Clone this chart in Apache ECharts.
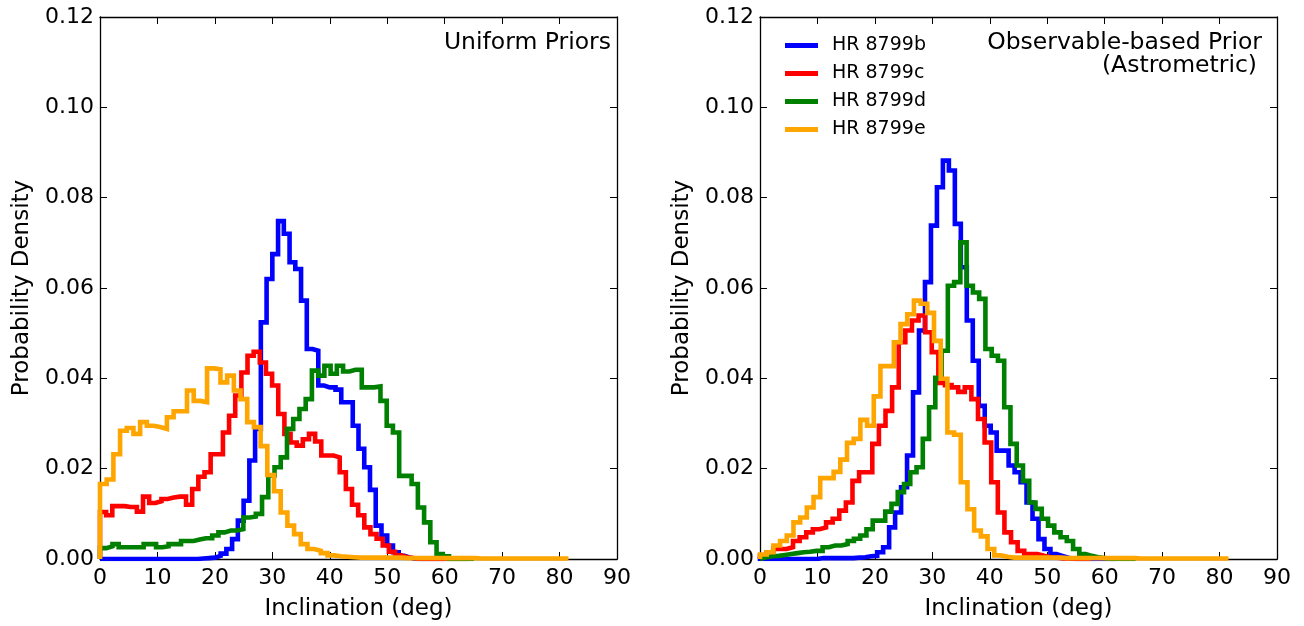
<!DOCTYPE html>
<html>
<head>
<meta charset="utf-8">
<script src="https://cdn.jsdelivr.net/npm/echarts@6/dist/echarts.min.js"></script>
<style>
html,body{margin:0;padding:0;background:#fff;}
#chart{width:1304px;height:626px;}
</style>
</head>
<body>
<div id="chart"></div>
<script>
// ---------- data ----------
const seriesNames = ['HR 8799b', 'HR 8799c', 'HR 8799d', 'HR 8799e'];
const seriesColors = ['#0000ff', '#ff0000', '#008000', '#ffa500'];
const xTicks = [0, 10, 20, 30, 40, 50, 60, 70, 80, 90];
const yTicks = [0, 0.02, 0.04, 0.06, 0.08, 0.10, 0.12];
const panelTitles = ['Uniform Priors', 'Observable-based Prior', '(Astrometric)'];
const xAxisTitle = 'Inclination (deg)';
const yAxisTitle = 'Probability Density';

// histogram bins: [first edge, bin width] (degrees), then density per bin
const leftBlueBins = [0, 1.0];
const leftBlue = [0,0,0,0,0,0,0,0,0,0, 0,0,0,0,0,0,0,0.0001,0.0002,0.0003,
  0.0007,0.0012,0.0022,0.0044,0.0085,0.0129,0.0218,0.0288,0.0524,0.062,
  0.0675,0.0748,0.072,0.0657,0.0642,0.0572,0.0465,0.0461,0.0384,0.038,
  0.038,0.0375,0.0347,0.0347,0.0295,0.0244,0.0203,0.0153,0.0074,0.0052,
  0.003,0.0015,0.0007,0.0003,0,0,0,0,0,0];

const leftRedBins = [0, 1.07];
const leftRed = [0.0104,0.0097,0.0117,0.0117,0.0115,0.0115,0.0105,0.0138,0.0124,0.0128,
  0.0133,0.0136,0.0138,0.0138,0.012,0.0155,0.0182,0.0192,0.0232,0.0232,
  0.028,0.0317,0.0362,0.0413,0.045,0.0459,0.0435,0.041,0.0384,0.0321,
  0.0277,0.0258,0.0251,0.0265,0.0277,0.026,0.0229,0.0229,0.0225,0.0192,
  0.0155,0.012,0.0097,0.007,0.0055,0.0045,0.003,0.0016,0.0008,0.0004,
  0.0002,0,0,0,0,0,0,0,0,0];

const leftGreenBins = [0, 1.085];
const leftGreen = [0.0024,0.0028,0.0033,0.0026,0.0026,0.0026,0.0026,0.0033,0.0033,0.0026,
  0.0028,0.0033,0.0033,0.004,0.004,0.0043,0.0046,0.0046,0.0052,0.0059,
  0.0063,0.0063,0.0066,0.0092,0.0094,0.01,0.0137,0.0185,0.0203,0.0225,
  0.0288,0.031,0.0332,0.0354,0.0417,0.0406,0.0428,0.041,0.0428,0.0415,
  0.0419,0.0419,0.038,0.038,0.0382,0.035,0.0295,0.028,0.0184,0.0184,
  0.0166,0.0114,0.0081,0.0037,0.0011,0.0006,0,0,0,0];

const leftOrangeBins = [0, 1.165];
const leftOrange = [0.0166,0.0176,0.0232,0.0284,0.029,0.0277,0.0303,0.0295,0.0292,0.0288,
  0.0314,0.0327,0.0327,0.0373,0.035,0.0347,0.0422,0.042,0.0391,0.0406,
  0.0373,0.0354,0.0303,0.0292,0.025,0.0186,0.015,0.0103,0.0074,0.0055,
  0.0033,0.0022,0.0018,0.0013,0.0008,0.0006,0.0005,0.0004,0.0003,0.0003,
  0.0003,0.0003,0.0003,0.0003,0.0003,0.0002,0.0002,0.0002,0.0002,0.0002,
  0.0002,0.0002,0.0002,0.0002,0.0002,0.0002,0.0001,0.0001,0.0001,0.0001,
  0.0001,0.0001,0.0001,0.0001,0.0001,0.0001,0.0001,0.0001,0.0001,0.0001];

const rightBlueBins = [-0.4, 1.04];
const rightBlue = [0,0,0,0,0,0,0,0,0,0, 0.0002,0.0002,0.0002,0.0002,0.0002,0.0002,0.0003,0.0004,0.0006,0.0007,
  0.0015,0.0026,0.007,0.0103,0.0159,0.0229,0.0369,0.0506,0.0613,0.0738,
  0.0823,0.0882,0.086,0.0742,0.0646,0.0528,0.0439,0.0339,0.0295,0.028,
  0.024,0.024,0.0207,0.0192,0.017,0.0125,0.0089,0.0044,0.0022,0.0011,
  0.0007,0.0003,0,0,0,0,0,0,0,0];

const rightRedBins = [0, 1.15];
const rightRed = [0.0007,0.0015,0.0022,0.0022,0.0026,0.004,0.0048,0.0059,0.0066,0.007,
  0.0081,0.0089,0.0107,0.0125,0.0173,0.0192,0.0192,0.0255,0.0295,0.0328,
  0.038,0.048,0.0506,0.0528,0.0539,0.0502,0.0458,0.039,0.0385,0.038,
  0.037,0.038,0.0354,0.031,0.0258,0.017,0.0103,0.0059,0.0037,0.0018,
  0.0011,0.0011,0.0007,0.0004,0.0003,0.0001,0.0001,0,0,0];

const rightGreenBins = [0, 1.09];
const rightGreen = [0.0004,0.0006,0.0007,0.0009,0.0011,0.0013,0.0015,0.0016,0.0018,0.0018,
  0.0026,0.003,0.003,0.0033,0.004,0.0045,0.0052,0.0066,0.0085,0.0085,
  0.0105,0.0122,0.0148,0.0166,0.0192,0.0203,0.0266,0.0336,0.0401,0.0461,
  0.0605,0.0613,0.0701,0.0605,0.059,0.0576,0.0465,0.045,0.0439,0.0336,
  0.0255,0.0207,0.0173,0.0125,0.0111,0.0089,0.0074,0.0059,0.0048,0.004,
  0.0022,0.0011,0.0007,0.0004,0.0002,0,0,0,0,0];

const rightOrangeBins = [0, 1.165];
const rightOrange = [0.001,0.0015,0.003,0.004,0.0052,0.0081,0.0092,0.0114,0.0137,0.0179,
  0.0179,0.0193,0.022,0.0257,0.0266,0.0308,0.0295,0.036,0.0427,0.0427,
  0.048,0.052,0.0542,0.0572,0.0565,0.0545,0.0483,0.0399,0.028,0.0275,
  0.017,0.011,0.0063,0.005,0.0022,0.0008,0.0005,0.0003,0.0003,0.0003,
  0.0003,0.0003,0.0003,0.0003,0.0003,0.0002,0.0002,0.0002,0.0002,0.0002,
  0.0002,0.0002,0.0002,0.0002,0.0002,0.0002,0.0001,0.0001,0.0001,0.0001,
  0.0001,0.0001,0.0001,0.0001,0.0001,0.0001,0.0001,0.0001,0.0001,0.0001];

// ---------- build ----------
function stepOutline(bins, values) {
  const start = bins[0], w = bins[1];
  const pts = [[start, 0]];
  values.forEach(function (v, i) {
    pts.push([start + i * w, v]);
    pts.push([start + (i + 1) * w, v]);
  });
  pts.push([start + values.length * w, 0]);
  return pts;
}

const FONT = 'DejaVu Sans';
const panels = [
  [[leftBlueBins, leftBlue], [leftRedBins, leftRed], [leftGreenBins, leftGreen], [leftOrangeBins, leftOrange]],
  [[rightBlueBins, rightBlue], [rightRedBins, rightRed], [rightGreenBins, rightGreen], [rightOrangeBins, rightOrange]]
];

const grids = [
  {left: 100, top: 17, width: 517, height: 544},
  {left: 760, top: 17, width: 517, height: 544}
];

const frameLine = {show: true, onZero: false, lineStyle: {color: '#000', width: 1.3}};
const tickIn = {show: true, inside: true, length: 7, lineStyle: {color: '#000', width: 1}};

const xAxes = [], yAxes = [];
[0, 1].forEach(function (g) {
  xAxes.push({
    type: 'value', gridIndex: g, position: 'bottom',
    min: xTicks[0], max: xTicks[xTicks.length - 1], interval: xTicks[1] - xTicks[0],
    axisLine: frameLine, axisTick: tickIn, splitLine: {show: false},
    axisLabel: {color: '#000', fontSize: 22, fontFamily: FONT, margin: 8},
    name: xAxisTitle, nameLocation: 'middle', nameGap: 39,
    nameTextStyle: {color: '#000', fontSize: 23, fontFamily: FONT}
  });
});
[0, 1].forEach(function (g) {
  xAxes.push({
    type: 'value', gridIndex: g, position: 'top',
    min: xTicks[0], max: xTicks[xTicks.length - 1], interval: xTicks[1] - xTicks[0],
    axisLine: frameLine, axisTick: tickIn, splitLine: {show: false},
    axisLabel: {show: false}
  });
});
[0, 1].forEach(function (g) {
  yAxes.push({
    type: 'value', gridIndex: g, position: 'left',
    min: yTicks[0], max: yTicks[yTicks.length - 1], interval: yTicks[1] - yTicks[0],
    axisLine: frameLine, axisTick: tickIn, splitLine: {show: false},
    axisLabel: {color: '#000', fontSize: 22, fontFamily: FONT, margin: 6,
      formatter: function (v) { return v.toFixed(2); }},
    name: yAxisTitle, nameLocation: 'middle', nameGap: 66,
    nameTextStyle: {color: '#000', fontSize: 23, fontFamily: FONT}
  });
});
[0, 1].forEach(function (g) {
  yAxes.push({
    type: 'value', gridIndex: g, position: 'right',
    min: yTicks[0], max: yTicks[yTicks.length - 1], interval: yTicks[1] - yTicks[0],
    axisLine: frameLine, axisTick: tickIn, splitLine: {show: false},
    axisLabel: {show: false}
  });
});

const series = [];
panels.forEach(function (panel, g) {
  panel.forEach(function (entry, k) {
    series.push({
      type: 'line', name: seriesNames[k],
      xAxisIndex: g, yAxisIndex: g,
      data: stepOutline(entry[0], entry[1]),
      showSymbol: false, symbol: 'none', clip: true,
      lineStyle: {color: seriesColors[k], width: 4.6, join: 'miter', cap: 'butt'},
      itemStyle: {color: seriesColors[k]},
      emphasis: {disabled: true},
      z: 2 + k
    });
  });
});

const chart = echarts.init(document.getElementById('chart'), null, {renderer: 'canvas'});
chart.setOption({
  animation: false,
  backgroundColor: '#fff',
  grid: grids,
  xAxis: xAxes,
  yAxis: yAxes,
  series: series,
  title: [
    {text: panelTitles[0], right: 693, top: 31, padding: 0,
      textStyle: {color: '#000', fontSize: 23.5, fontWeight: 'normal', fontFamily: FONT}},
    {text: panelTitles[1], right: 42, top: 31, padding: 0,
      textStyle: {color: '#000', fontSize: 23.5, fontWeight: 'normal', fontFamily: FONT}},
    {text: panelTitles[2], right: 47, top: 54, padding: 0,
      textStyle: {color: '#000', fontSize: 23.5, fontWeight: 'normal', fontFamily: FONT}}
  ],
  legend: {
    orient: 'vertical', left: 780, top: 31,
    itemWidth: 33, itemHeight: 5, itemGap: 9, icon: 'rect',
    data: seriesNames,
    textStyle: {color: '#000', fontSize: 19, fontFamily: FONT, padding: [0, 0, 0, 9]}
  }
});
</script>
</body>
</html>
